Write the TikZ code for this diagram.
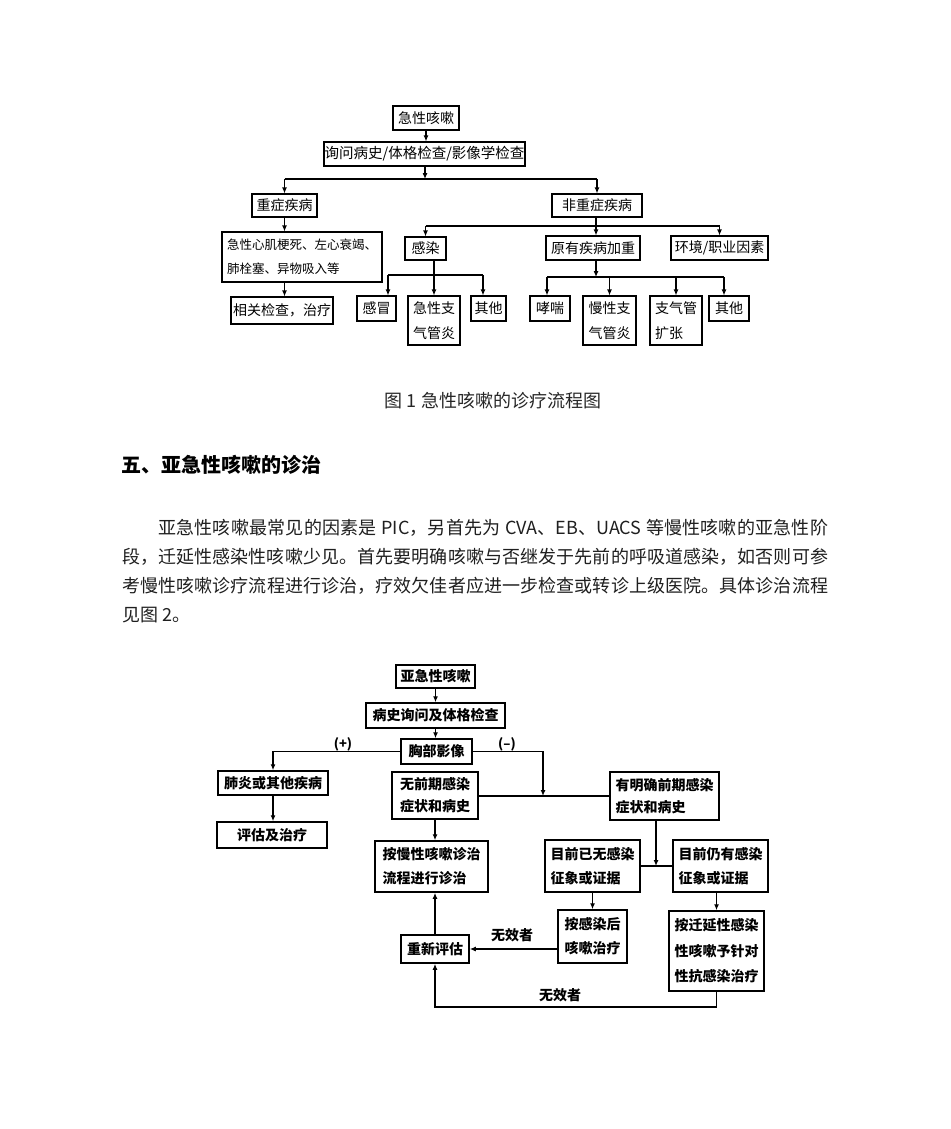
\documentclass[tikz,border=0pt]{standalone}
\usepackage{fontspec}
\setmainfont{Noto Sans CJK SC}
\usetikzlibrary{arrows.meta}
\XeTeXlinebreaklocale "zh"
\XeTeXlinebreakskip=0pt plus 1pt
\tikzset{
  bo/.style={draw=black, line width=1.1pt, inner sep=0pt, align=left, font=\fontsize{14}{25}\selectfont},
  bt/.style={draw=black, line width=1.5pt, inner sep=0pt, align=left, font=\bfseries\fontsize{14}{24}\selectfont},
  lo/.style={line width=1.1pt},
  ao/.style={line width=1.1pt, -{Latex[length=6pt,width=5pt]}},
  lt/.style={line width=1.4pt},
  at2/.style={line width=1.4pt, -{Latex[length=6pt,width=5pt]}},
  lab/.style={font=\bfseries\fontsize{13}{15}\selectfont, inner sep=0pt},
}
% #1 options, #2 name, #3 x1, #4 y1, #5 x2, #6 y2, #7 text
\newcommand\mybox[7]{\node[#1, minimum width={(#5-#3)*1pt}, minimum height={(#6-#4)*1pt}] (#2) at ({(#3+#5)/2},{(#4+#6)/2}) {#7};}
\begin{document}
\begin{tikzpicture}[x=1pt,y=-1pt]
\fill[white] (0,0) rectangle (950,1129);
\useasboundingbox (0,0) rectangle (950,1129);

% ---------- Figure 1 ----------
\mybox{bo}{p1}{393}{106}{459}{130}{急性咳嗽}
\mybox{bo,font=\fontsize{14.5}{25}\selectfont}{p2}{324}{142}{525}{166}{询问病史/体格检查/影像学检查}
\mybox{bo}{p3}{252}{194}{317}{217}{重症疾病}
\mybox{bo}{p4}{552}{194}{642}{217}{非重症疾病}
\mybox{bo,font=\fontsize{12.5}{24}\selectfont}{p5}{222}{232}{382}{282}{急性心肌梗死、左心衰竭、\\肺栓塞、异物吸入等}
\mybox{bo}{p6}{231}{297}{333}{324}{相关检查，治疗}
\mybox{bo}{p7}{405}{237}{446}{260}{感染}
\mybox{bo}{p8}{357}{296}{396}{321}{感冒}
\mybox{bo}{p9}{408}{296}{460}{345}{急性支\\气管炎}
\mybox{bo}{p10}{471}{296}{506}{321}{其他}
\mybox{bo}{p11}{546}{236}{640}{260}{原有疾病加重}
\mybox{bo}{p12}{671}{236}{768}{260}{环境/职业因素}
\mybox{bo}{p13}{530}{296}{570}{321}{哮喘}
\mybox{bo}{p14}{583}{296}{636}{345}{慢性支\\气管炎}
\mybox{bo}{p15}{650}{296}{702}{345}{支气管\\扩张}
\mybox{bo}{p16}{709}{296}{749}{321}{其他}

\coordinate (j1) at (425,179);
\draw[ao] (p1.south) -- (p1.south |- p2.north);
\draw[ao] (j1 |- p2.south) -- (j1);
\draw[lo] (p3.north |- j1) -- (p4.north |- j1);
\draw[ao] (p3.north |- j1) -- (p3.north);
\draw[ao] (p4.north |- j1) -- (p4.north);
\draw[ao] (p3.south) -- (p3.south |- p5.north);
\draw[ao] (p3.south |- p5.south) -- (p3.south |- p6.north);

\coordinate (j2) at (596,226);
\draw[ao] (j2 |- p4.south) -- (j2 |- p11.north);
\draw[lo] (p7.north |- j2) -- (p12.north |- j2);
\draw[ao] (p7.north |- j2) -- (p7.north);
\draw[ao] (p12.north |- j2) -- (p12.north);

\coordinate (j3) at (388,275);
\coordinate (j4) at (483,275);
\draw[ao] (p9.north |- p7.south) -- (p9.north);
\draw[lo] (j3) -- (j4);
\draw[ao] (j3) -- (j3 |- p8.north);
\draw[ao] (j4) -- (j4 |- p10.north);

\coordinate (j5) at (596,277);
\coordinate (j6) at (547,277);
\coordinate (j7) at (724,277);
\draw[ao] (j5 |- p11.south) -- (j5);
\draw[lo] (j6) -- (j7);
\draw[ao] (j6) -- (j6 |- p13.north);
\draw[ao] (p14.north |- j5) -- (p14.north);
\draw[ao] (p15.north |- j5) -- (p15.north);
\draw[ao] (j7) -- (j7 |- p16.north);

% ---------- text ----------
\node[font=\fontsize{18}{20}\selectfont, text=black!85, inner sep=0pt] (cap) at (493,401) {图 1 急性咳嗽的诊疗流程图};
\node[font=\bfseries\fontsize{20}{22}\selectfont, anchor=west, inner sep=0pt] (hd) at (121,465) {五、亚急性咳嗽的诊治};
\node[text width=706pt, align=justify, anchor=north west, inner sep=0pt, text=black!88,
      font=\fontsize{18}{29}\selectfont] (para) at (122,519)
 {\hspace*{2em}亚急性咳嗽最常见的因素是 PIC，另首先为 CVA、EB、UACS 等慢性咳嗽的亚急性阶\linebreak
  段，迁延性感染性咳嗽少见。首先要明确咳嗽与否继发于先前的呼吸道感染，如否则可参\linebreak
  考慢性咳嗽诊疗流程进行诊治，疗效欠佳者应进一步检查或转诊上级医院。具体诊治流程\linebreak
  见图 2。};

% ---------- Figure 2 ----------
\mybox{bt}{s1}{396}{665}{475}{688}{亚急性咳嗽}
\mybox{bt}{s2}{366}{703}{505}{728}{病史询问及体格检查}
\mybox{bt}{s3}{401}{739}{472}{764}{胸部影像}
\mybox{bt}{s4}{218}{771}{328}{795}{肺炎或其他疾病}
\mybox{bt}{s5}{217}{822}{327}{848}{评估及治疗}
\mybox{bt,font=\bfseries\fontsize{14}{22}\selectfont}{s6}{392}{772}{478}{819}{无前期感染\\症状和病史}
\mybox{bt,font=\bfseries\fontsize{14}{22}\selectfont}{s7}{610}{772}{719}{820}{有明确前期感染\\症状和病史}
\mybox{bt}{s8}{375}{841}{488}{892}{按慢性咳嗽诊治\\流程进行诊治}
\mybox{bt}{s9}{545}{840}{640}{892}{目前已无感染\\征象或证据}
\mybox{bt}{s10}{673}{840}{768}{892}{目前仍有感染\\征象或证据}
\mybox{bt}{s11}{558}{910}{627}{963}{按感染后\\咳嗽治疗}
\mybox{bt,font=\bfseries\fontsize{14}{25.5}\selectfont}{s12}{669}{911}{764}{991}{按迁延性感染\\性咳嗽予针对\\性抗感染治疗}
\mybox{bt}{s13}{401}{935}{469}{963}{重新评估}

\draw[at2] (s1.south) -- (s1.south |- s2.north);
\draw[at2] (s2.south) -- (s2.south |- s3.north);
\draw[at2] (s3.west) -| (s4.north);
\node[lab] (plus) at (343,744) {(+)};
\coordinate (k1) at (543,796);
\draw[at2] (s3.east) -| (k1);
\node[lab] (minus) at (507,744) {(–)};
\draw[lt] (s6.east |- k1) -- (s7.west |- k1);
\draw[at2] (s4.south) -- (s4.south |- s5.north);
\draw[at2] (s6.south) -- (s6.south |- s8.north);
\coordinate (k2) at (656,866);
\draw[at2] (k2 |- s7.south) -- (k2);
\draw[lt] (s9.east |- k2) -- (s10.west |- k2);
\draw[at2] (s11.north |- s9.south) -- (s11.north);
\draw[at2] (s12.north |- s10.south) -- (s12.north);
\coordinate (k3) at (435,949);
\draw[at2] (s11.west |- k3) -- (s13.east |- k3);
\node[lab,font=\bfseries\fontsize{14}{16}\selectfont] (w1) at (512,935) {无效者};
\draw[at2] (s13.north) -- (s13.north |- s8.south);
\coordinate (k4) at (435,1007);
\draw[at2] (s12.south) |- (k4) -- (s13.south);
\node[lab,font=\bfseries\fontsize{14}{16}\selectfont] (w2) at (560,995) {无效者};
\end{tikzpicture}
\end{document}
